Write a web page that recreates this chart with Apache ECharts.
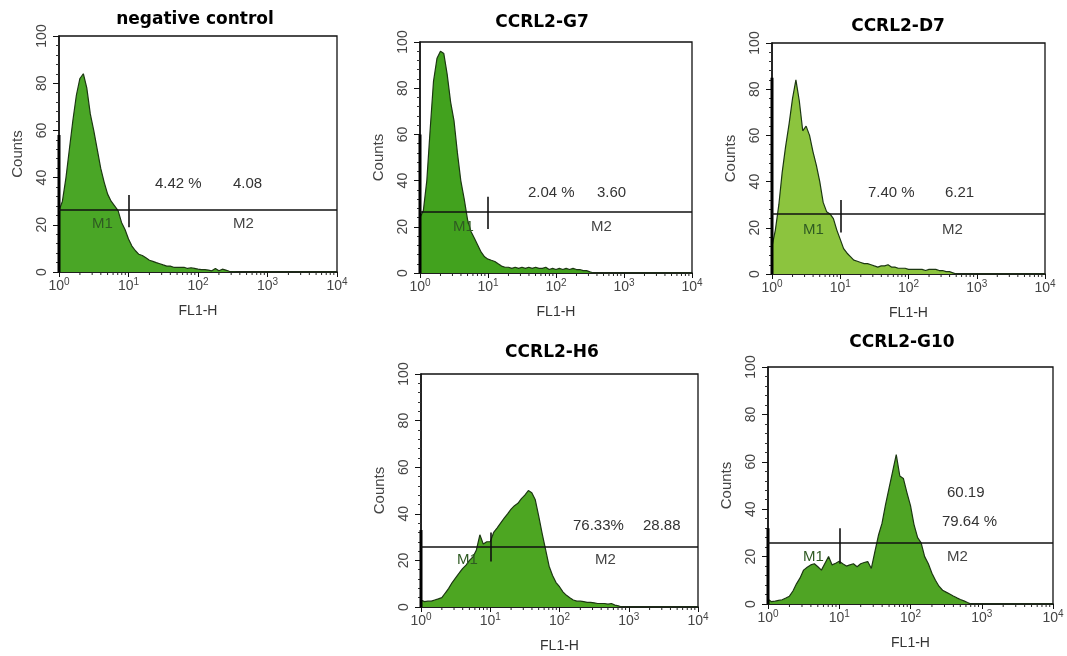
<!DOCTYPE html>
<html>
<head>
<meta charset="utf-8">
<script src="https://cdn.jsdelivr.net/npm/echarts@6/dist/echarts.min.js"></script>
<style>
html, body { margin: 0; padding: 0; background: #fff; }
#chart { width: 1067px; height: 656px; }
</style>
</head>
<body>
<div id="chart"></div>
<script>
// FL1-H bin centres (0.05 decade steps up to 10^3, then tail)
const bins = [1.00, 1.12, 1.26, 1.41, 1.58, 1.78, 2.00, 2.24, 2.51, 2.82,
  3.16, 3.55, 3.98, 4.47, 5.01, 5.62, 6.31, 7.08, 7.94, 8.91,
  10.0, 11.2, 12.6, 14.1, 15.8, 17.8, 20.0, 22.4, 25.1, 28.2,
  31.6, 35.5, 39.8, 44.7, 50.1, 56.2, 63.1, 70.8, 79.4, 89.1,
  100, 112, 126, 141, 158, 178, 200, 224, 251, 282,
  316, 355, 398, 447, 501, 562, 631, 708, 794, 891,
  1000, 2000, 5000, 10000];

const negControl = [26, 30, 40, 52, 64, 75, 82, 84, 78, 67,
  60, 52, 44, 38, 33, 30, 28, 26, 21, 18,
  14, 11, 9, 7.5, 7, 6, 5, 4.5, 4, 3.5,
  3, 2.5, 2.5, 2, 2, 2, 2, 1.5, 1.8, 1.5,
  1.2, 1, 1, 0.8, 0.5, 1.5, 0.5, 1.2, 0.8, 0.3,
  0.2, 0, 0, 0, 0, 0, 0, 0, 0, 0,
  0, 0, 0, 0];

const ccrl2G7 = [24, 27, 40, 62, 83, 93, 96, 95, 86, 74,
  66, 52, 40, 32, 23, 18, 15, 12, 9, 7,
  6, 5.5, 5, 4, 3, 2.5, 2.5, 2, 2.5, 2,
  2.5, 2, 2.5, 2, 2.5, 2, 2, 2.5, 1.5, 2,
  1.5, 2, 1.5, 2, 1.5, 2, 1.5, 1.5, 1, 1,
  0.5, 0, 0, 0, 0, 0, 0, 0, 0, 0,
  0, 0, 0, 0];

const ccrl2D7 = [12, 19, 30, 44, 55, 65, 76, 84, 75, 62,
  64, 60, 53, 47, 40, 31, 27, 26, 24, 19,
  15, 11, 9, 7.5, 6, 5.5, 5, 4.5, 4.5, 4,
  3.5, 3, 3.5, 3.5, 4, 3, 3, 2.5, 2.5, 2.5,
  2, 2, 2, 2, 2, 1.5, 2, 2, 2, 1.5,
  1.5, 1, 1, 0.5, 0, 0, 0, 0, 0, 0,
  0, 0, 0, 0];

const ccrl2H6 = [3, 2.3, 2.5, 2.5, 3, 3.5, 4, 6, 8, 10.5,
  12.5, 14.5, 16.5, 18, 20, 21.5, 24.5, 31, 27, 28,
  28, 32, 34, 36, 38, 40, 42, 43.5, 44.5, 46.5,
  48, 50, 49, 46, 39, 31.5, 24.5, 17.5, 13.5, 10.5,
  8.7, 6.5, 5, 4, 3, 2.5, 2.5, 2.3, 2, 2,
  1.8, 1.5, 1.5, 1.5, 1.2, 1.5, 0.8, 0.5, 0, 0,
  0, 0, 0, 0];

const ccrl2G10 = [2, 1, 1.2, 1.5, 1.8, 2.5, 3.3, 5.5, 8.5, 11,
  14.3, 15.5, 16.5, 17, 15.7, 14.3, 17.2, 20, 16.5, 17.2,
  18, 17, 16, 16.5, 17, 15.7, 17, 17.5, 17.9, 15,
  22, 29, 34, 42, 49, 56, 63, 54, 53, 47,
  41.5, 33.5, 28, 25.8, 20, 17, 13, 10, 7.5, 5.8,
  5, 4.2, 3.4, 2.6, 1.9, 1.3, 0.6, 0, 0, 0,
  0, 0, 0, 0];

const panelNames = ['negative control', 'CCRL2-G7', 'CCRL2-D7', 'CCRL2-H6', 'CCRL2-G10'];
const panelCounts = [negControl, ccrl2G7, ccrl2D7, ccrl2H6, ccrl2G10];
const channelZero = [58, 60, 85, 33, 32];        // first-channel pile-up on the axis
const gateM2 = [26.3, 26.5, 26, 25.9, 25.9];     // marker bar height
const gateM1Tick = [[19, 32.6], [19, 33], [18, 32], [19.5, 32], [17, 32]];
const gateEdge = 10;
const pctText = ['4.42 %', '2.04 %', '7.40 %', '76.33%', '79.64 %'];
const meanText = ['4.08', '3.60', '6.21', '28.88', '60.19'];
const minorTickVals = [2, 3, 4, 5, 6, 7, 8, 9, 20, 30, 40, 50, 60, 70, 80, 90,
  200, 300, 400, 500, 600, 700, 800, 900, 2000, 3000, 4000, 5000, 6000, 7000, 8000, 9000];

const FONT = '"Liberation Sans", Arial, sans-serif';
const TITLE_FONT = 'bold 17px "DejaVu Sans", sans-serif';
const fills = ['#4aa626', '#42a21e', '#8cc43e', '#4da622', '#4fa424'];

const grids = [
  { left: 59, top: 36, width: 278, height: 236 },
  { left: 420, top: 42, width: 272, height: 231 },
  { left: 772, top: 43, width: 273, height: 231 },
  { left: 421, top: 374, width: 277, height: 233 },
  { left: 768, top: 367, width: 285, height: 237 }
];
const titlePos = [[195, 20], [542, 23], [898, 27], [552, 353], [902, 343]];
const pctPos = [[155, 184], [528, 193], [868, 193], [573, 526], [942, 522]];
const meanPos = [[233, 184], [597, 193], [945, 193], [643, 526], [947, 493]];
const m1Pos = [[92, 224], [453, 227], [803, 230], [457, 560], [803, 557]];
const m2Pos = [[233, 224], [591, 227], [942, 230], [595, 560], [947, 557]];

const chart = echarts.init(document.getElementById('chart'));

const xAxes = [], yAxes = [], series = [], graphics = [];

grids.forEach(function (g, i) {
  g.show = true;
  g.borderColor = '#111';
  g.borderWidth = 1.3;
  g.backgroundColor = 'transparent';

  xAxes.push({
    gridIndex: i,
    type: 'log',
    logBase: 10,
    min: 1,
    max: 10000,
    name: 'FL1-H',
    nameLocation: 'middle',
    nameGap: 32,
    nameTextStyle: { fontFamily: FONT, fontSize: 14, color: '#333' },
    axisLine: { onZero: false, lineStyle: { color: '#111', width: 1.5 } },
    axisTick: { length: 5, lineStyle: { color: '#111' } },
    splitLine: { show: false },
    axisLabel: {
      margin: 5,
      formatter: function (v) { return '{b|10}{e|' + Math.round(Math.log10(v)) + '}'; },
      rich: {
        b: { fontFamily: FONT, fontSize: 14, color: '#444' },
        e: { fontFamily: FONT, fontSize: 10, color: '#444', padding: [0, 0, 9, 0] }
      }
    }
  });

  yAxes.push({
    gridIndex: i,
    type: 'value',
    min: 0,
    max: 100,
    interval: 20,
    name: 'Counts',
    nameLocation: 'middle',
    nameGap: 34,
    nameTextStyle: { fontFamily: FONT, fontSize: 15, color: '#444' },
    axisLine: { show: true, lineStyle: { color: '#111', width: 1.5 } },
    axisTick: { length: 6, lineStyle: { color: '#111' } },
    minorTick: { show: true, splitNumber: 5, length: 3, lineStyle: { color: '#333' } },
    splitLine: { show: false },
    axisLabel: { rotate: 90, margin: 10, fontFamily: FONT, fontSize: 14, color: '#444' }
  });

  const pts = bins.map(function (b, k) { return [b, panelCounts[i][k]]; });

  series.push({
    type: 'line',
    xAxisIndex: i,
    yAxisIndex: i,
    data: pts,
    showSymbol: false,
    silent: true,
    lineStyle: { color: '#1c3712', width: 1.2 },
    areaStyle: { color: fills[i], opacity: 1 },
    markLine: {
      silent: true,
      symbol: 'none',
      label: { show: false },
      lineStyle: { color: '#111', type: 'solid', width: 1.6 },
      data: [
        { yAxis: gateM2[i] },
        [{ coord: [gateEdge, gateM1Tick[i][0]] }, { coord: [gateEdge, gateM1Tick[i][1]] }]
      ]
    }
  });

  series.push({
    type: 'line',
    xAxisIndex: i,
    yAxisIndex: i,
    data: [[bins[0], 0], [bins[0], channelZero[i]]],
    showSymbol: false,
    silent: true,
    clip: false,
    lineStyle: { color: '#000', width: 3 }
  });

  series.push({
    type: 'custom',
    xAxisIndex: i,
    yAxisIndex: i,
    silent: true,
    data: minorTickVals.map(function (v) { return [v, 0]; }),
    renderItem: function (params, api) {
      const p = api.coord([api.value(0), 0]);
      return {
        type: 'line',
        shape: { x1: p[0], y1: p[1], x2: p[0], y2: p[1] + 3 },
        style: { stroke: '#222', lineWidth: 1 }
      };
    }
  });

  graphics.push({
    type: 'text', z: 100, x: titlePos[i][0], y: titlePos[i][1],
    style: { text: panelNames[i], fill: '#000', font: TITLE_FONT, align: 'center', verticalAlign: 'middle' }
  });
  graphics.push({
    type: 'text', z: 100, x: pctPos[i][0], y: pctPos[i][1],
    style: { text: pctText[i], fill: '#333', font: '15px ' + FONT, align: 'left', verticalAlign: 'middle' }
  });
  graphics.push({
    type: 'text', z: 100, x: meanPos[i][0], y: meanPos[i][1],
    style: { text: meanText[i], fill: '#333', font: '15px ' + FONT, align: 'left', verticalAlign: 'middle' }
  });
  graphics.push({
    type: 'text', z: 100, x: m1Pos[i][0], y: m1Pos[i][1],
    style: { text: 'M1', fill: '#2f5a22', font: '15px ' + FONT, align: 'left', verticalAlign: 'middle' }
  });
  graphics.push({
    type: 'text', z: 100, x: m2Pos[i][0], y: m2Pos[i][1],
    style: { text: 'M2', fill: '#444', font: '15px ' + FONT, align: 'left', verticalAlign: 'middle' }
  });
});

chart.setOption({
  animation: false,
  backgroundColor: '#fff',
  grid: grids,
  xAxis: xAxes,
  yAxis: yAxes,
  series: series,
  graphic: graphics
});
</script>
</body>
</html>
